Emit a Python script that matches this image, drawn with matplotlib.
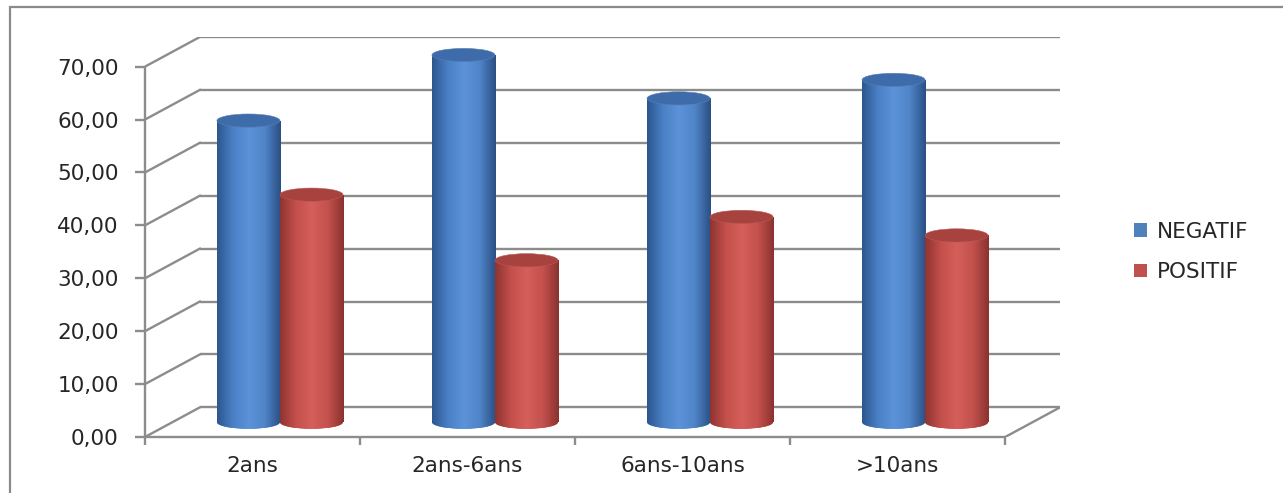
import matplotlib
matplotlib.use("Agg")
import matplotlib.pyplot as plt
import numpy as np
from matplotlib.colors import LinearSegmentedColormap
from matplotlib.patches import Ellipse, Rectangle

# données
categories = ["2ans", "2ans-6ans", "6ans-10ans", ">10ans"]
negatif = [57.0, 69.4, 61.2, 64.7]
positif = [43.0, 30.6, 38.8, 35.3]
series_names = ["NEGATIF", "POSITIF"]
yticks = [0, 10, 20, 30, 40, 50, 60, 70]
ytick_labels = ["0,00", "10,00", "20,00", "30,00", "40,00", "50,00", "60,00", "70,00"]

# profondeur de la perspective (unités des données)
D = 0.255
DY = 5.6
W = 0.293      # largeur d'un cylindre
EH = 2.5       # hauteur des ellipses

grid_col = "#8c8c8c"
text_col = "#262626"
FS = 15.5

styles = [
    dict(mid="#4f81bd", cap="#3e6cab",
         grad=["#2c568e", "#4a80c6", "#5c92d8", "#4f84c8", "#2a4f84"]),
    dict(mid="#c0504d", cap="#a8423f",
         grad=["#8e3431", "#c44f4b", "#d45f5b", "#c4514d", "#8a322f"]),
]

fig = plt.figure(figsize=(12.83, 4.93), dpi=100)
W_PX, H_PX = 1283, 493

# cadre du graphique
fig.patches.append(Rectangle((10 / W_PX, -0.1), 2, 1 - 7 / H_PX + 0.1,
                             transform=fig.transFigure, fill=False,
                             edgecolor="#8a8a8a", linewidth=1.6))

ax = fig.add_axes([145 / W_PX, (H_PX - 437) / H_PX, (1060 - 145) / W_PX, 400 / H_PX])
ax.set_xlim(0, len(categories) + D)
ax.set_ylim(0, 70 + DY)

# mur du fond + côté gauche
for v in yticks:
    ax.plot([D, len(categories) + D], [v + DY, v + DY], color=grid_col, lw=1.7, zorder=1,
            solid_capstyle="butt")
    ax.plot([0, D], [v, v + DY], color=grid_col, lw=1.7, zorder=1)
# plancher côté droit
ax.plot([len(categories), len(categories) + D], [0, DY], color=grid_col, lw=1.7, zorder=1)

grad = np.linspace(0, 1, 256).reshape(1, -1)
data = [negatif, positif]
handles = []
for i in range(len(categories)):
    for j, vals in enumerate(data):
        st = styles[j]
        cmap = LinearSegmentedColormap.from_list("c%d" % j, st["grad"])
        xc = i + 0.5 + D / 2 + (j - 0.5) * W
        base = DY / 2
        z = 3 + i + j * 0.5
        bars = ax.bar([xc], [vals[i]], width=W, bottom=base, color=st["mid"],
                      linewidth=0, zorder=z, label=series_names[j] if i == 0 else None)
        if i == 0:
            handles.append(bars)
        bot = Ellipse((xc, base), W, EH, facecolor=st["mid"], linewidth=0, zorder=z)
        ax.add_patch(bot)
        for p in (bars[0], bot):
            im = ax.imshow(grad, cmap=cmap, extent=(xc - W / 2, xc + W / 2, base - EH / 2, base + vals[i]),
                           aspect="auto", origin="lower", zorder=z + 0.1, interpolation="bilinear")
            im.set_clip_path(p)
        ax.add_patch(Ellipse((xc, base + vals[i]), W, EH, facecolor=st["cap"],
                             edgecolor="#5a7fb0" if j == 0 else "#b55a57", linewidth=0.4, zorder=z + 0.2))

ax.set_xlim(0, len(categories) + D)
ax.set_ylim(0, 70 + DY)

# axes avant
for s in ["top", "right"]:
    ax.spines[s].set_visible(False)
ax.spines["left"].set_bounds(0, 70)
ax.spines["bottom"].set_bounds(0, len(categories))
for s in ["left", "bottom"]:
    ax.spines[s].set_color(grid_col)
    ax.spines[s].set_linewidth(1.7)
ax.spines["bottom"].set_zorder(2)

ax.set_yticks(yticks)
ax.set_yticklabels(ytick_labels)
ax.tick_params(axis="y", direction="out", length=7, width=1.7, color=grid_col,
               labelsize=FS, labelcolor=text_col, pad=12)
ax.set_xticks(range(len(categories) + 1))
ax.set_xticklabels([])
ax.set_xticks([k + 0.5 for k in range(len(categories))], minor=True)
ax.set_xticklabels(categories, minor=True)
ax.tick_params(axis="x", which="major", direction="out", length=6, width=1.7, color=grid_col)
ax.tick_params(axis="x", which="minor", length=0, labelsize=FS, labelcolor=text_col, pad=14)

fig.legend(handles=handles, labels=series_names, loc="center left",
           bbox_to_anchor=(1115 / W_PX, 1 - 252 / H_PX), frameon=False,
           fontsize=FS, handlelength=0.6, handleheight=0.6, handletextpad=0.45,
           labelspacing=0.95, labelcolor=text_col)

fig.savefig("out.png", dpi=100)
